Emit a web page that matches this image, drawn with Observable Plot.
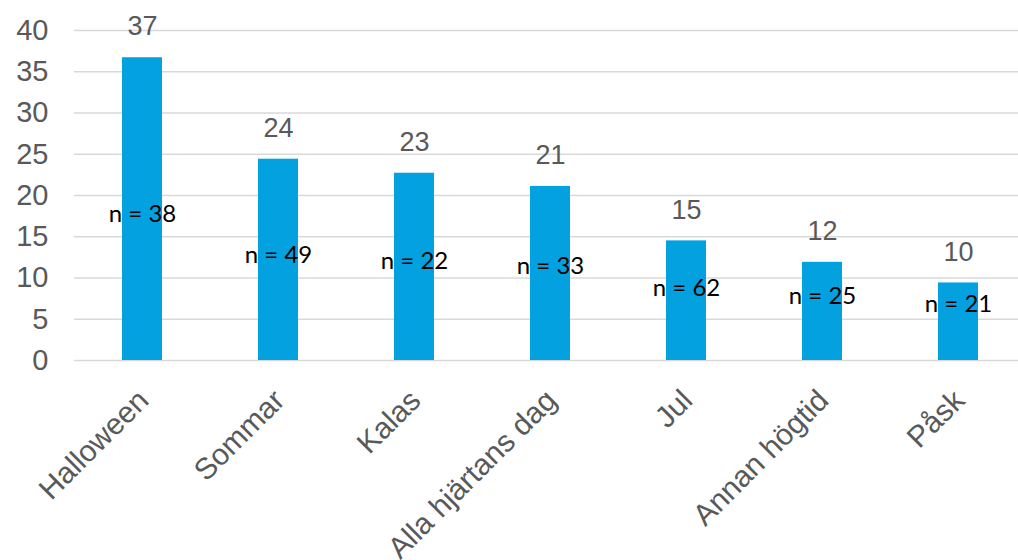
<!DOCTYPE html>
<html><head><meta charset="utf-8">
<script src="https://cdn.jsdelivr.net/npm/d3@7"></script>
<script src="https://cdn.jsdelivr.net/npm/@observablehq/plot@0.6"></script>
<style>body{margin:0;background:#fff}</style>
</head><body><div id="chart"></div>
<script>
const categories = ["Halloween", "Sommar", "Kalas", "Alla hjärtans dag", "Jul", "Annan högtid", "Påsk"];
const values = [36.7, 24.4, 22.7, 21.1, 14.5, 11.9, 9.4];
const valueLabels = ["37", "24", "23", "21", "15", "12", "10"];
const nCounts = [38, 49, 22, 33, 62, 25, 21];
const yTicks = [0, 5, 10, 15, 20, 25, 30, 35, 40];

const data = categories.map((c, i) => ({category: c, value: values[i], label: valueLabels[i], n: nCounts[i]}));

const chart = Plot.plot({
  width: 1018,
  height: 560,
  marginLeft: 74,
  marginRight: -8,
  marginTop: 30,
  marginBottom: 200,
  style: {fontFamily: "'Liberation Sans', Arial, sans-serif", background: "white", overflow: "visible"},
  x: {domain: categories, paddingInner: 0.706, paddingOuter: 0.353, align: 0.5},
  y: {domain: [0, 40]},
  marks: [
    Plot.gridY(yTicks, {stroke: "#d9d9d9", strokeOpacity: 1, strokeWidth: 1.5}),
    Plot.barY(data, {x: "category", y: "value", fill: "#03a1df"}),
    Plot.text(data, {x: "category", y: "value", text: "label", dy: -31, fontSize: 27, fill: "#595959"}),
    Plot.text(data, {x: "category", y: d => d.value * 0.4 + 3, text: d => `n = ${d.n}`, fontSize: 24, fill: "#000", fontFamily: "Lato, 'Open Sans', sans-serif"}),
    Plot.axisY({ticks: yTicks, tickSize: 0, tickPadding: 26, fontSize: 29, color: "#595959", label: null}),
    Plot.axisX({tickSize: 0, tickRotate: -45, fontSize: 30, color: "#595959", label: null, tickPadding: 35, dx: 1})
  ]
});
document.getElementById("chart").append(chart);
</script>
</body></html>
